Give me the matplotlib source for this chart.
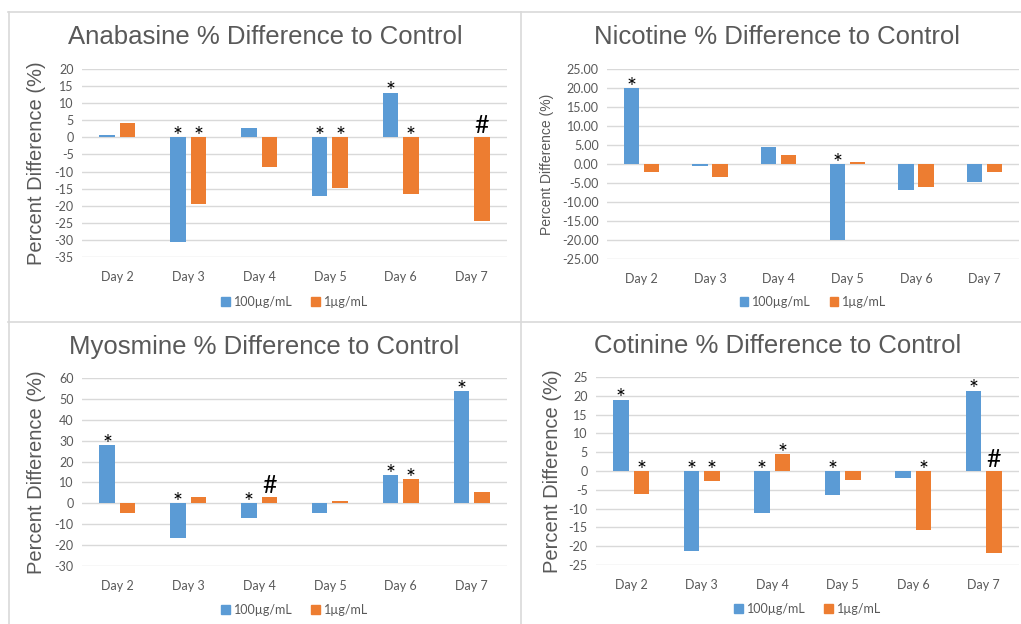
import numpy as np
import matplotlib
matplotlib.use("Agg")
import matplotlib.pyplot as plt
from matplotlib.lines import Line2D
from matplotlib.patches import Patch

days = ["Day 2", "Day 3", "Day 4", "Day 5", "Day 6", "Day 7"]
series_names = ["100µg/mL", "1µg/mL"]

anabasine_100 = [0.7, -30.6, 2.8, -17.1, 13.1, 0.0]
anabasine_1 = [4.1, -19.6, -8.6, -14.8, -16.7, -24.6]
anabasine_sig_100 = ["", "*", "", "*", "*", ""]
anabasine_sig_1 = ["", "*", "", "*", "*", "#"]

nicotine_100 = [20.0, -0.4, 4.6, -19.9, -6.9, -4.8]
nicotine_1 = [-2.2, -3.4, 2.4, 0.6, -6.1, -2.2]
nicotine_sig_100 = ["*", "", "", "*", "", ""]
nicotine_sig_1 = ["", "", "", "", "", ""]

myosmine_100 = [28.0, -16.8, -7.2, -4.5, 13.5, 53.8]
myosmine_1 = [-4.5, 2.9, 3.2, 1.0, 11.7, 5.4]
myosmine_sig_100 = ["*", "*", "*", "", "*", "*"]
myosmine_sig_1 = ["", "", "#", "", "*", ""]

cotinine_100 = [19.0, -21.4, -11.1, -6.5, -1.8, 21.4]
cotinine_1 = [-6.1, -2.7, 4.5, -2.5, -15.8, -21.7]
cotinine_sig_100 = ["*", "*", "*", "*", "", "*"]
cotinine_sig_1 = ["*", "*", "*", "", "*", "#"]

BLUE = "#5B9BD5"
ORANGE = "#ED7D31"
GRID = "#D9D9D9"
TEXT = "#595959"

W, H = 1021, 624
fig = plt.figure(figsize=(W / 100, H / 100), dpi=100)
fig.patch.set_facecolor("white")


def px_axes(x0, y0, x1, y1):
    # pixel box (top-left origin) -> figure axes
    return fig.add_axes([x0 / W, 1 - y1 / H, (x1 - x0) / W, (y1 - y0) / H])


def draw_panel(box, title, title_xy, v100, v1, s100, s1, ylim, step,
               fmt, ylab_x, ylab_size, legend_y):
    ax = px_axes(*box)
    x = np.arange(len(days))
    w = 0.22
    off = 0.145
    ax.bar(x - off, v100, w, color=BLUE, label=series_names[0], zorder=3)
    ax.bar(x + off, v1, w, color=ORANGE, label=series_names[1], zorder=3)

    ax.set_ylim(*ylim)
    ax.set_xlim(-0.5, len(days) - 0.5)
    ticks = np.arange(ylim[0], ylim[1] + step / 2, step)
    ax.set_yticks(ticks)
    ax.set_yticklabels([fmt.format(t) for t in ticks])
    ax.set_xticks(x)
    ax.set_xticklabels(days)
    ax.tick_params(axis="both", length=0, colors=TEXT, labelsize=9)
    ax.tick_params(axis="x", pad=10)
    ax.tick_params(axis="y", pad=6)
    for sp in ax.spines.values():
        sp.set_visible(False)
    ax.yaxis.grid(True, color=GRID, lw=1.0, zorder=0)
    ax.set_axisbelow(True)

    for i in range(len(days)):
        for xi, val, mark in ((x[i] - off, v100[i], s100[i]),
                              (x[i] + off, v1[i], s1[i])):
            if not mark:
                continue
            base = max(val, 0)
            if mark == "#":
                ax.annotate(mark, (xi, base), xytext=(0, 0), textcoords="offset points",
                            ha="center", va="bottom", fontsize=18, color="black")
            else:
                ax.annotate(mark, (xi, base), xytext=(0, -7), textcoords="offset points",
                            ha="center", va="bottom", fontsize=17, color="black")

    fig.text(title_xy[0] / W, 1 - title_xy[1] / H, title, ha="center", va="center",
             fontsize=18.5, color=TEXT, family="Liberation Sans")
    fig.text(ylab_x / W, 1 - (box[1] + box[3]) / 2 / H, "Percent Difference (%)",
             rotation=90, ha="center", va="center", fontsize=ylab_size, color=TEXT,
             family="Liberation Sans")

    handles = [Patch(color=BLUE), Patch(color=ORANGE)]
    cx = (box[0] + box[2]) / 2
    fig.legend(handles, series_names, loc="center",
               bbox_to_anchor=(cx / W, 1 - legend_y / H), ncol=2, frameon=False,
               fontsize=9, labelcolor=TEXT, handlelength=0.7, handleheight=0.7,
               handletextpad=0.3, columnspacing=1.5)
    return ax


plt.rcParams["font.family"] = ["Lato", "DejaVu Sans"]

draw_panel((82, 69, 507, 257), "Anabasine % Difference to Control", (265, 37),
           anabasine_100, anabasine_1, anabasine_sig_100, anabasine_sig_1,
           (-35, 20), 5, "{:.0f}", 37, 14.5, 302)
draw_panel((607, 69, 1019, 259), "Nicotine % Difference to Control", (777, 37),
           nicotine_100, nicotine_1, nicotine_sig_100, nicotine_sig_1,
           (-25, 25), 5, "{:.2f}", 547, 10, 302)
draw_panel((82, 378, 507, 566), "Myosmine % Difference to Control", (264, 347),
           myosmine_100, myosmine_1, myosmine_sig_100, myosmine_sig_1,
           (-30, 60), 10, "{:.0f}", 37, 14.5, 610)
draw_panel((596, 377, 1019, 565), "Cotinine % Difference to Control", (778, 346),
           cotinine_100, cotinine_1, cotinine_sig_100, cotinine_sig_1,
           (-25, 25), 5, "{:.0f}", 552, 14.5, 609)

# panel borders
border = dict(color="#D9D9D9", lw=1.2, transform=fig.transFigure)
fig.add_artist(Line2D([8 / W, 1], [1 - 11.5 / H] * 2, **border))
fig.add_artist(Line2D([8.5 / W] * 2, [1 - 11.5 / H, 0], **border))
fig.add_artist(Line2D([521 / W] * 2, [1 - 11.5 / H, 0], **border))
fig.add_artist(Line2D([8 / W, 1], [1 - 322 / H] * 2, **border))

fig.savefig("out.png", dpi=100)
